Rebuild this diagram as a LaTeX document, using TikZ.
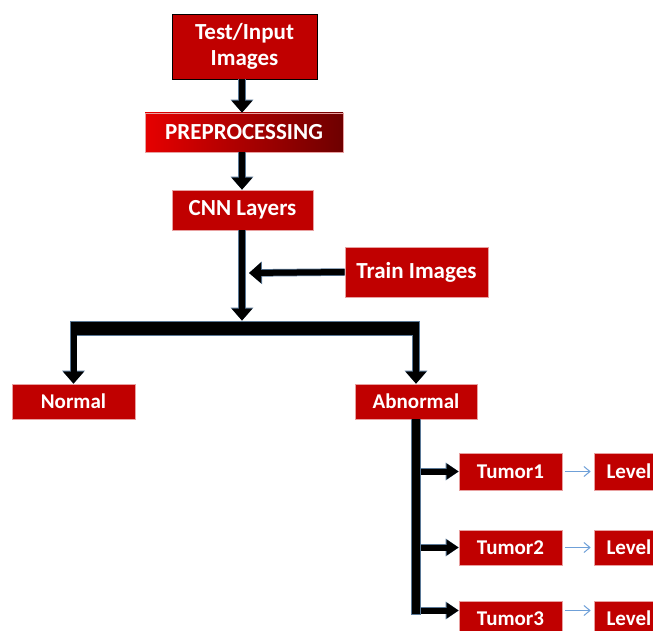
\documentclass[tikz,border=0pt]{standalone}
\usepackage{fontspec}
\setmainfont{Carlito}
\usetikzlibrary{arrows.meta,calc}
\definecolor{boxred}{HTML}{C00000}
\definecolor{boxedge}{HTML}{E8A0A0}
\definecolor{gradL}{HTML}{E60000}
\definecolor{gradR}{HTML}{6E0000}
\definecolor{outl}{HTML}{5A7896}
\definecolor{thinblue}{HTML}{6FA0D8}
\tikzset{
  box/.style={fill=boxred, draw=boxedge, line width=0.6pt, inner sep=0pt, text=white,
    font=\bfseries\fontsize{23}{26}\selectfont, align=center},
  sbox/.style={box, font=\bfseries\fontsize{21}{24}\selectfont},
  bigarrow/.style={line width=6pt, draw=black,
    -{Triangle[length=12pt,width=20pt]},
    preaction={draw=outl, line width=7.5pt, -{Triangle[length=13pt,width=22pt]}}},
  midarrow/.style={line width=6pt, draw=black,
    -{Triangle[length=12pt,width=15pt]},
    preaction={draw=outl, line width=7.5pt, -{Triangle[length=13pt,width=17pt]}}},
  thinarrow/.style={draw=thinblue, line width=1pt, -{Straight Barb[length=6pt,width=10pt]}},
}
\begin{document}
\begin{tikzpicture}[x=1pt,y=-1pt]
\useasboundingbox (0,0) rectangle (653,631);
\clip (0,0) rectangle (653,631);
% nodes
\node[box, draw=black, minimum width=145pt, minimum height=65pt] (test) at (244.5,46.5) {Test/Input\\Images};
\node[box, left color=gradL, right color=gradR, minimum width=198pt, minimum height=39pt] (pre) at (244,132.5) {PREPROCESSING};
\node[box, minimum width=141pt, minimum height=40pt] (cnn) at (242.5,210) {CNN Layers};
\node[box, minimum width=143pt, minimum height=50pt] (train) at (416.5,272) {Train Images};
\node[fill=black, draw=outl, line width=0.8pt, inner sep=0pt, minimum width=349pt, minimum height=14pt] (bar) at (244.5,328) {};
\node[sbox, minimum width=123pt, minimum height=35pt] (normal) at (73.5,401.5) {Normal};
\node[sbox, minimum width=122pt, minimum height=35pt] (abn) at (416,401.5) {Abnormal};
\node[sbox, minimum width=103pt, minimum height=37pt] (t1) at (510.5,471.5) {Tumor1};
\node[sbox, minimum width=103pt, minimum height=35pt] (t2) at (510.5,547.5) {Tumor2};
\node[sbox, minimum width=103pt, minimum height=35pt] (t3) at (510.5,618.5) {Tumor3};
\node[sbox, minimum width=70pt, minimum height=37pt] (l1) at (629,471.5) {Level};
\node[sbox, minimum width=70pt, minimum height=35pt] (l2) at (629,547.5) {Level};
\node[sbox, minimum width=70pt, minimum height=35pt] (l3) at (629,618.5) {Level};
\coordinate (vtop) at (416,419);
\coordinate (vend) at (416,615);
\coordinate (tin) at (249,273);
% connectors
\draw[bigarrow] (test.south -| 242,0) -- (pre.north -| 242,0);
\draw[bigarrow] (pre.south -| 242,0) -- (cnn.north -| 242,0);
\draw[bigarrow] (cnn.south -| 242,0) -- (bar.north -| 242,0);
\draw[bigarrow] (train.west) -- (tin);
\draw[bigarrow] (bar.south -| normal.north) -- (normal.north);
\draw[bigarrow] (bar.south -| abn.north) -- (abn.north);
\draw[draw=outl, line width=10pt] (abn.south) -- (vend);
\draw[draw=black, line width=8pt] (abn.south) -- ($(vend)+(0,-1)$);
\draw[midarrow] ($(vend |- t1.west)+(5,0)$) -- (t1.west);
\draw[midarrow] ($(vend |- t2.west)+(5,0)$) -- (t2.west);
\draw[midarrow] ($(vend |- t3.west)+(5,-8)$) -- ($(t3.west)+(0,-8)$);
\draw[thinarrow] ($(t1.east)+(3,0)$) -- ($(l1.west)+(-3,0)$);
\draw[thinarrow] ($(t2.east)+(3,0)$) -- ($(l2.west)+(-3,0)$);
\draw[thinarrow] ($(t3.east)+(3,-8)$) -- ($(l3.west)+(-3,-8)$);
\end{tikzpicture}
\end{document}
